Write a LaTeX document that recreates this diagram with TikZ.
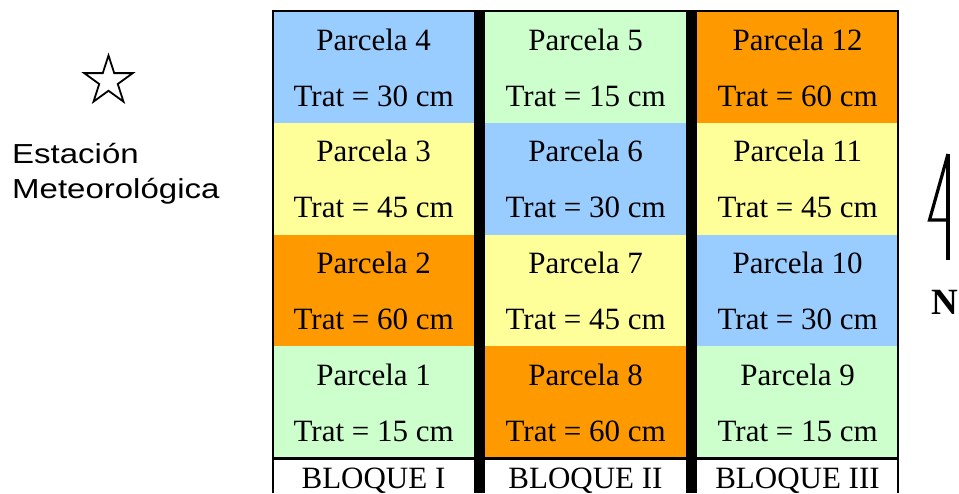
\documentclass[tikz,border=0pt]{standalone}
\usepackage{fontspec}
\setmainfont{Liberation Serif}
\newfontfamily\arialf{Liberation Sans}
\usetikzlibrary{shapes.geometric}
\definecolor{cblue}{HTML}{99CCFF}
\definecolor{cgreen}{HTML}{CCFFCC}
\definecolor{cyellow}{HTML}{FFFF99}
\definecolor{corange}{HTML}{FF9900}
\tikzset{
  cell/.style={rectangle, draw=none, inner sep=0pt, anchor=north west,
    minimum width=201pt, minimum height=111.75pt},
  txt/.style={anchor=base, inner sep=0pt, font=\fontsize{31}{31}\selectfont},
  sans/.style={anchor=base west, inner sep=0pt, font=\arialf\fontsize{27.5}{27.5}\selectfont},
  bar/.style={line width=11pt},
  frame/.style={line width=2.5pt},
}
\begin{document}
\begin{tikzpicture}[x=1pt,y=-1pt]
\useasboundingbox (0,0) rectangle (959,493);
\fill[white] (0,0) rectangle (959,493);
% column 1
\node[cell, fill=cblue]   (c4)  at (273,11)     {};
\node[cell, fill=cyellow] (c3)  at (273,122.75) {};
\node[cell, fill=corange] (c2)  at (273,234.5)  {};
\node[cell, fill=cgreen]  (c1)  at (273,346.25) {};
% column 2
\node[cell, fill=cgreen]  (c5)  at (485,11)     {};
\node[cell, fill=cblue]   (c6)  at (485,122.75) {};
\node[cell, fill=cyellow] (c7)  at (485,234.5)  {};
\node[cell, fill=corange] (c8)  at (485,346.25) {};
% column 3
\node[cell, fill=corange] (c12) at (697,11)     {};
\node[cell, fill=cyellow] (c11) at (697,122.75) {};
\node[cell, fill=cblue]   (c10) at (697,234.5)  {};
\node[cell, fill=cgreen]  (c9)  at (697,346.25) {};
% texts
\foreach \n/\t in {4/30,3/45,2/60,1/15,5/15,6/30,7/45,8/60,12/60,11/45,10/30,9/15}{
  \node[txt] (p\n) at ([yshift=-39pt]c\n.north) {Parcela \n};
  \node[txt] (t\n) at ([yshift=-95pt]c\n.north) {Trat = \t{} cm};
}
% block labels
\node[txt] (b1) at (373.5,488) {BLOQUE I};
\node[txt] (b2) at (585.5,488) {BLOQUE II};
\node[txt] (b3) at (797.5,488) {BLOQUE III};
% lines
\draw[frame] (273,493) -- (273,11) -- (898,11) -- (898,493);
\draw[line width=3pt] (273,458.5) -- (898,458.5);
\draw[bar] (479.5,9.75) -- (479.5,493);
\draw[bar] (691.5,9.75) -- (691.5,493);
% star and station
\node[star, star points=5, star point ratio=2.618, draw, line width=1.8pt,
  minimum size=51pt, inner sep=0pt] (st) at (108.5,81) {};
\node[sans] (e1) at (12,163) {\scalebox{1.2}[1]{Estación}};
\node[sans] (e2) at (12,198) {\scalebox{1.2}[1]{Meteorológica}};
% north arrow
\coordinate (ntop) at (948,154);
\coordinate (nbot) at (948,260);
\coordinate (nhead) at (929.5,220);
\coordinate (nmid) at (948,220);
\draw[line width=4pt] (ntop) -- (nbot);
\draw[line width=3.2pt, line join=miter] (ntop) -- (nhead) -- (nmid);
\node[anchor=base, inner sep=0pt, font=\bfseries\fontsize{37}{37}\selectfont] (N) at (945,314) {N};
\end{tikzpicture}
\end{document}
